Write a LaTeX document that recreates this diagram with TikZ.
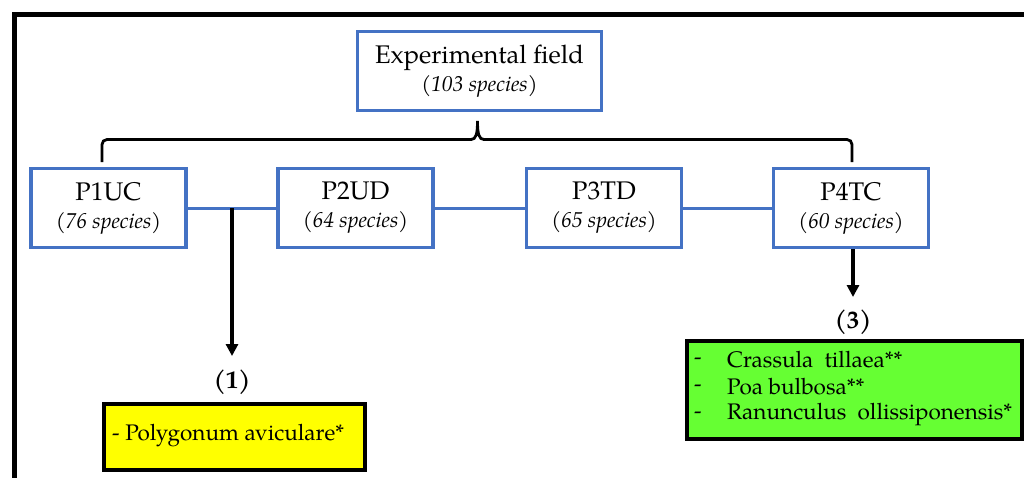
\documentclass[tikz,border=0pt]{standalone}
\usepackage{fontspec}
\setmainfont{TeX Gyre Pagella}
\usetikzlibrary{arrows.meta,calc}
\definecolor{boxblue}{HTML}{4472C4}
\definecolor{hiyellow}{HTML}{FFFF00}
\definecolor{higreen}{HTML}{66FF33}
\newcommand{\spc}[1]{{\fontsize{21.5}{23}\selectfont\itshape #1}}
\tikzset{
  plotbox/.style={draw=boxblue, line width=3.5pt, fill=white, align=center, inner sep=0pt,
    minimum width=155pt, minimum height=79pt, font=\fontsize{25.5}{27}\selectfont},
  fieldbox/.style={plotbox, minimum width=244pt},
  link/.style={draw=boxblue, line width=3pt},
  brace/.style={draw=black, line width=2.8pt},
  arr/.style={draw=black, line width=3.2pt, -{Triangle[length=12pt,width=12pt]}},
  numlabel/.style={font=\fontsize{25}{27}\selectfont\bfseries, inner sep=0pt},
  listbox/.style={draw=black, line width=4pt, inner sep=0pt},
  listtext/.style={font=\fontsize{22.5}{27}\selectfont, anchor=west, inner sep=0pt}
}
\begin{document}
\begin{tikzpicture}[x=1pt,y=-1pt]
\useasboundingbox (0,0) rectangle (1024,477);
\fill[white] (0,0) rectangle (1024,477);
% frame
\draw[line width=5pt] (1030,14.5) -- (14.5,14.5) -- (14.5,490);

\node[fieldbox] (field) at (479.5,71) {Experimental field\\[1pt]\spc{(103 species)}};

\node[plotbox] (p1) at (108.5,208) {P1UC\\[1pt]\spc{(76 species)}};
\node[plotbox] (p2) at (355.5,208) {P2UD\\[1pt]\spc{(64 species)}};
\node[plotbox] (p3) at (604,208) {P3TD\\[1pt]\spc{(65 species)}};
\node[plotbox] (p4) at (851,208) {P4TC\\[1pt]\spc{(60 species)}};

% blue links
\draw[link] (p1.east) -- (p2.west);
\draw[link] (p2.east) -- (p3.west);
\draw[link] (p3.east) -- (p4.west);

% brace
\coordinate (bl) at (102,162);
\coordinate (br) at (852,162);
\coordinate (tip) at (477.5,121);
\draw[brace, rounded corners=5pt] (bl) -- (102,139.5) -- (472,139.5);
\draw[brace, rounded corners=5pt] (br) -- (852,139.5) -- (483,139.5);
\draw[brace] (471,139.5) .. controls (476,139.5) and (477.5,134) .. (tip)
             .. controls (477.5,134) and (479,139.5) .. (484,139.5);

% arrows and labels
\coordinate (j1) at (232,208);
\node[numlabel] (n1) at (232,382) {(1)};
\node[numlabel] (n3) at (853,322) {(3)};
\coordinate (a1) at (232,356);
\coordinate (a3) at (853,297);
\draw[arr] (j1) -- (a1);
\draw[arr] (p4.south -| a3) -- (a3);

% result boxes
\node[listbox, fill=hiyellow, minimum width=261pt, minimum height=66pt, anchor=north west] (yb) at (102,402) {};
\node[listtext] (ytext) at (112,436) {- Polygonum\ aviculare*};

\node[listbox, fill=higreen, minimum width=335pt, minimum height=98pt, anchor=north west] (gb) at (685,339) {};
\node[listtext] (g1) at (694,361) {-};
\node[listtext] (g2) at (694,388) {-};
\node[listtext] (g3) at (694,415) {-};
\node[listtext] (t1) at (727,360) {Crassula\ \ tillaea**};
\node[listtext] (t2) at (727,387) {Poa bulbosa**};
\node[listtext] (t3) at (727,414) {Ranunculus\ \ ollissiponensis*};
\end{tikzpicture}
\end{document}
